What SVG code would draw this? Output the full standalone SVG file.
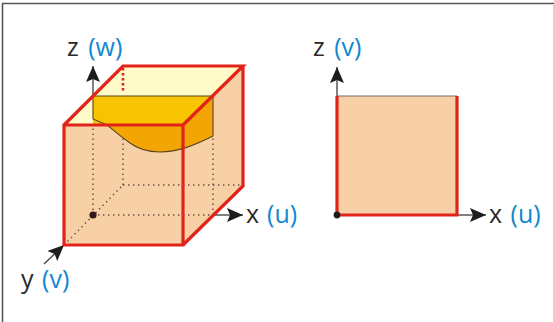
<svg xmlns="http://www.w3.org/2000/svg" width="554" height="322" viewBox="0 0 554 322">
<defs>
<marker id="ah" markerUnits="userSpaceOnUse" markerWidth="17" markerHeight="15" refX="16" refY="7" orient="auto"><path d="M0 0L16 7L0 14L3 7Z" fill="#1d1d1b"/></marker>
</defs>
<style>
.t{font-family:"Open Sans",sans-serif;font-size:25px;fill:#2b2a29}
.b{fill:#1088cf}
.axis{stroke:#4a4a48;stroke-width:1.4;fill:none;marker-end:url(#ah)}
.dot{stroke:#5f4c42;stroke-width:1.4;stroke-dasharray:1.4 3.6;fill:none}
.red{stroke:#e2231a;stroke-width:3.2;fill:none;stroke-linejoin:miter}
.peach{fill:#f8d0a6}
</style>
<rect width="554" height="322" fill="#fff"/>
<path d="M2.5 322V3.5H554" fill="none" stroke="#555" stroke-width="1.6"/>
<path d="M553.5 4V322" stroke="#d8d8d8" stroke-width="1"/>
<g id="connectors">
<path class="axis" d="M93 120V66"/>
<path class="axis" d="M215 215H243"/>
<path class="axis" d="M44 264L64 245"/>
<path class="axis" d="M337 96V67"/>
<path class="axis" d="M457 215H486"/>
</g>
<g id="cube">
<path class="peach" d="M64 125H183V245H64Z"/>
<path class="peach" d="M183 125L243 66V186L183 245Z"/>
<path d="M64 125L123 66H243L183 125Z" fill="#fffbc8"/>
<path d="M93 215V125M123 185V125M213 215V135M93 215H213M123 185H243M64 245L123 185" class="dot"/>
<path d="M123 68V93" stroke="#e2231a" stroke-width="2.6" stroke-dasharray="2.6 2.4" fill="none"/>
<path d="M93 96H213L183 125H93Z" fill="#f8c300"/>
<path d="M93 119L107 125H183L213 96V136C195 145 178 152 160 152C148 152 138 149 130 143C120 136 115 132 107 125Z" fill="#f2a503"/>
<path d="M93 96H213V136C195 145 178 152 160 152C148 152 138 149 130 143C120 136 112 129 107 125L93 119Z" fill="none" stroke="#5a4520" stroke-width="1.1"/>
<path class="red" d="M64 125H183V245H64ZM64 125L123 66H243L183 125M243 66V186L183 245"/>
<circle cx="93" cy="215" r="3.6" fill="#35191a"/>
</g>
<g id="square">
<path class="peach" d="M337 96H457V215H337Z"/>
<path d="M337 96H457" stroke="#7a6a5a" stroke-width="1.2"/>
<path class="red" d="M337 96V215H457V96"/>
<circle cx="337" cy="215" r="3.4" fill="#1d1d1b"/>
</g>
<g id="labels">
<text class="t" x="67" y="56">z <tspan class="b" dx="3">(w)</tspan></text>
<text class="t" x="246" y="223">x <tspan class="b" dx="1.5">(u)</tspan></text>
<text class="t" x="21" y="288">y <tspan class="b" dx="2">(v)</tspan></text>
<text class="t" x="313" y="56">z <tspan class="b" dx="3">(v)</tspan></text>
<text class="t" x="489" y="223">x <tspan class="b" dx="2">(u)</tspan></text>
</g>
</svg>
